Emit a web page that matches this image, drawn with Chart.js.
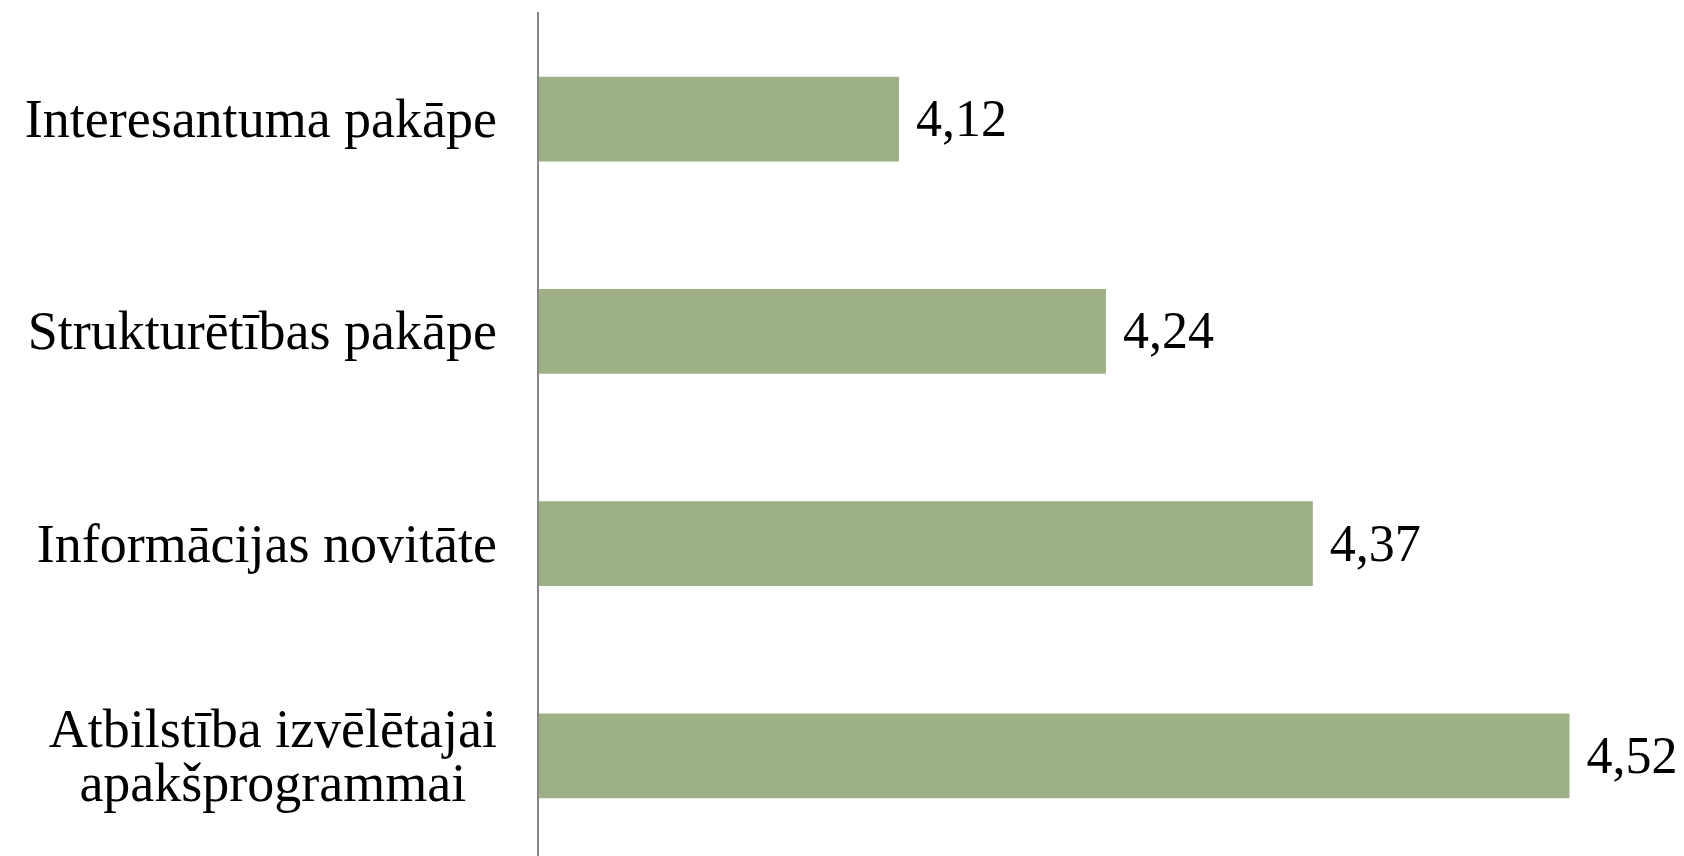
<!DOCTYPE html>
<html lang="lv">

<head>
    <meta charset="UTF-8">
    <title>Vērtējumi</title>
    <script src="https://cdn.jsdelivr.net/npm/chart.js@4.4.0/dist/chart.umd.min.js"></script>
    <style>
        html, body { margin: 0; padding: 0; background: #fff; overflow: hidden; }
        .wrap { width: 1697px; height: 862px; position: relative; }
    </style>
</head>

<body>
    <div class="wrap">
        <canvas id="chart"></canvas>
    </div>

    <script>
        // Data
        const categories = [
            ["Interesantuma pakāpe"],
            ["Strukturētības pakāpe"],
            ["Informācijas novitāte"],
            ["Atbilstība izvēlētajai", "apakšprogrammai"]
        ];
        const values = [4.118, 4.243, 4.368, 4.523];
        const axisMin = 3.9;
        const axisMax = 4.6;

        const barColor = "#9eb085";
        const fontFamily = '"Liberation Serif", "DejaVu Serif", serif';

        // draws category labels (multi-line centred) and the value labels
        const textPlugin = {
            id: "textPlugin",
            afterDatasetsDraw(chart) {
                const ctx = chart.ctx;
                const yScale = chart.scales.y;
                const meta = chart.getDatasetMeta(0);
                const lineHeight = 54;

                ctx.save();
                ctx.fillStyle = "#000";
                ctx.textBaseline = "alphabetic";

                ctx.font = "54px " + fontFamily;
                ctx.textAlign = "center";
                categories.forEach(function (lines, i) {
                    const cy = yScale.getPixelForTick(i);
                    const w = Math.max(...lines.map(l => ctx.measureText(l).width));
                    const cx = chart.chartArea.left - 41 - w / 2;
                    const first = cy - (lines.length - 1) * lineHeight / 2 + 18;
                    lines.forEach(function (line, k) {
                        ctx.fillText(line, cx, first + k * lineHeight);
                    });
                });

                ctx.font = "52px " + fontFamily;
                ctx.textAlign = "left";
                meta.data.forEach(function (bar, i) {
                    const txt = values[i].toFixed(2).replace(".", ",");
                    ctx.fillText(txt, bar.x + 17, bar.y + 17);
                });
                ctx.restore();
            }
        };

        const ctx = document.getElementById("chart").getContext("2d");
        const chart = new Chart(ctx, {
            type: "bar",
            data: {
                labels: categories,
                datasets: [{
                    data: values,
                    backgroundColor: barColor,
                    borderWidth: 0,
                    categoryPercentage: 1,
                    barPercentage: 0.4
                }]
            },
            options: {
                indexAxis: "y",
                responsive: true,
                maintainAspectRatio: false,
                animation: false,
                layout: { padding: { left: 538, top: 13, right: 0, bottom: 0 } },
                plugins: {
                    legend: { display: false },
                    tooltip: { enabled: false }
                },
                scales: {
                    x: {
                        display: false,
                        min: axisMin,
                        max: axisMax
                    },
                    y: {
                        grid: { display: false, drawTicks: false },
                        border: { display: true, color: "#868686", width: 2, z: 1 },
                        ticks: { display: false }
                    }
                }
            },
            plugins: [textPlugin]
        });
    </script>
</body>

</html>
